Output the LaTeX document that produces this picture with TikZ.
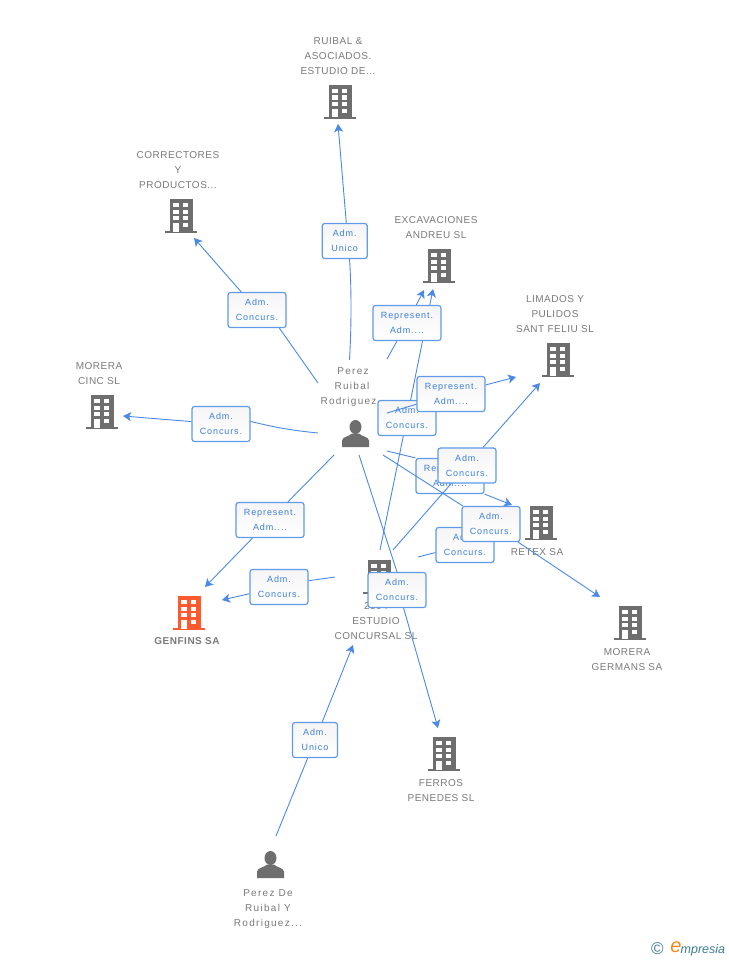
\documentclass[tikz,border=0pt]{standalone}
\usepackage{fontspec}
\usepackage{xcolor}
\usetikzlibrary{arrows.meta}
\setmainfont[LetterSpace=5]{Liberation Sans}
\newfontfamily\boxfont[LetterSpace=10]{Liberation Sans}
\newfontfamily\peoplefont[LetterSpace=13]{Liberation Sans}
\newfontfamily\logofont{Liberation Sans}
\definecolor{linkblue}{HTML}{4A8AE6}
\definecolor{boxblue}{HTML}{5F9AEB}
\definecolor{textblue}{HTML}{3C7FDC}
\definecolor{icongray}{HTML}{6E6E6E}
\definecolor{namegray}{HTML}{7A7A7A}
\definecolor{genfinsred}{HTML}{FF5A2E}
\definecolor{logoteal}{HTML}{3B7D96}
\definecolor{logoorange}{HTML}{F08A1D}
\colorlet{bldg}{icongray}
\tikzset{
  building/.pic={
    \fill[bldg] (-11,-17) rectangle (12,15.5);
    \fill[bldg] (-16,15) rectangle (16,17);
    \foreach \wy in {-13,-6.5,0} {
      \fill[white] (-7.7,\wy) rectangle (-2.3,\wy+4.3);
      \fill[white] (2,\wy) rectangle (6.7,\wy+4.3);
    }
    \fill[white] (-7.7,7) rectangle (-2.3,15.5);
    \fill[white] (2,7) rectangle (6.7,11);
  },
  person/.pic={
    \fill[bldg] (0,-6.5) ellipse (6 and 7);
    \fill[bldg] (-13.5,13.5) -- (-13.5,7) .. controls (-13,3) and (-6,3) .. (-3.5,0)
      -- (3.5,0) .. controls (6,3) and (13,3) .. (13.5,7) -- (13.5,13.5) -- cycle;
  }
}
\begin{document}
\begin{tikzpicture}[x=1pt,y=-1pt]
  \tikzstyle{entity}=[text=namegray,align=center,inner sep=0pt,font=\fontsize{10}{15}\selectfont]
  \tikzstyle{human}=[entity,font=\peoplefont\fontsize{10}{15}\selectfont]
  \tikzstyle{rolebox}=[draw=boxblue,line width=1.2pt,top color=black!4,bottom color=white,rounded corners=2.5pt,
    text=textblue,align=center,inner sep=0pt,minimum height=35pt,font=\boxfont\fontsize{9}{15}\selectfont]
  \tikzstyle{adm}=[rolebox,minimum width=58pt]
  \tikzstyle{rep}=[rolebox,minimum width=68pt]
  \tikzstyle{uni}=[rolebox,minimum width=45pt]
  \tikzstyle{link}=[draw=linkblue,line width=0.9pt]
  \tikzstyle{linkto}=[link,-{Stealth[length=8pt,width=9pt,inset=2pt]}]

  \useasboundingbox (0,0) rectangle (728,960);
  \fill[white] (0,0) rectangle (728,960);

  % loose ends of the links
  \coordinate (pz-ruibal) at (349.5,360);
  \coordinate (pz-correct) at (318,383);
  \coordinate (pz-cinc) at (318,433);
  \coordinate (pz-genfins) at (334,455);
  \coordinate (pz-excav) at (387,359);
  \coordinate (pz-limados) at (387,413);
  \coordinate (pz-retex) at (387,451);
  \coordinate (pz-germans) at (383,455);
  \coordinate (pz-ferros) at (359,455);
  \coordinate (es-genfins) at (335,577);
  \coordinate (es-excav) at (380,550);
  \coordinate (es-limados) at (393,550);
  \coordinate (es-retex) at (418,557);
  \coordinate (pd-estudio) at (276,836);
  \coordinate (to-ruibal) at (338,124);
  \coordinate (to-correct) at (194,238);
  \coordinate (to-excav1) at (424,290);
  \coordinate (to-excav2) at (433,289);
  \coordinate (to-limados1) at (516,377);
  \coordinate (to-limados2) at (540,383);
  \coordinate (to-cinc) at (123,416);
  \coordinate (to-retex) at (512,505);
  \coordinate (to-germans) at (600,597);
  \coordinate (to-genfins1) at (205,587);
  \coordinate (to-genfins2) at (222,600);
  \coordinate (to-estudio) at (353,645);
  \coordinate (to-ferros) at (438,728);

  % companies and people
  \pic at (340,102) {building};
  \pic at (181,216) {building};
  \pic at (439,266) {building};
  \pic at (558,360) {building};
  \pic at (102,412) {building};
  \pic at (541,523) {building};
  \pic at (379,577) {building};
  \pic at (630,623) {building};
  \pic at (444,754) {building};
  \begin{scope}
    \colorlet{bldg}{genfinsred}
    \pic at (189,613) {building};
  \end{scope}
  \pic at (355.5,433.5) {person};
  \pic at (270.5,864.5) {person};

  \node [entity] (ruibal) at (338,56.5) {RUIBAL \&\\ASOCIADOS.\\ESTUDIO DE...};
  \node [entity] (correct) at (178,170) {CORRECTORES\\Y\\PRODUCTOS...};
  \node [entity] (excav) at (436,227.5) {EXCAVACIONES\\ANDREU SL};
  \node [entity] (limados) at (555,314) {LIMADOS Y\\PULIDOS\\SANT FELIU SL};
  \node [entity] (cinc) at (99,373.5) {MORERA\\CINC SL};
  \node [entity] (retex) at (537,552) {RETEX SA};
  \node [entity] (estudio) at (376,621) {2004\\ESTUDIO\\CONCURSAL SL};
  \node [entity,font=\bfseries\fontsize{10}{15}\selectfont] (genfins) at (187,641) {GENFINS SA};
  \node [entity] (germans) at (627,659.5) {MORERA\\GERMANS SA};
  \node [entity] (ferros) at (441,790.5) {FERROS\\PENEDES SL};
  \node [human] (perez) at (348.5,387) {\hspace*{9pt}Perez\\\hspace*{7pt}Ruibal\\Rodriguez};
  \node [human] (perezde) at (268,909) {Perez De\\Ruibal Y\\Rodriguez...};

  % roles, left side
  \node [uni] (r-ruibal) at (344.7,241) {Adm.\\Unico};
  \draw [link] (pz-ruibal) .. controls (351.5,325) and (351.5,290) .. (r-ruibal.-75);
  \draw [linkto] (r-ruibal.85) -- (to-ruibal);

  \node [adm] (r-correct) at (257,310) {Adm.\\Concurs.};
  \draw [link] (pz-correct) -- (r-correct.-39);
  \draw [linkto] (r-correct) -- (to-correct);

  \node [adm] (r-cinc) at (221,424) {Adm.\\Concurs.};
  \draw [link] (pz-cinc) to[bend left=4] (r-cinc.5);
  \draw [linkto] (r-cinc) -- (to-cinc);

  \node [rep] (r-genfins) at (270,520) {Represent.\\Adm....};
  \draw [link] (pz-genfins) -- (r-genfins);
  \draw [linkto] (r-genfins) -- (to-genfins1);

  \node [adm] (r-estudio) at (279,587) {Adm.\\Concurs.};
  \draw [link] (es-genfins) -- (r-estudio.12);
  \draw [linkto] (r-estudio) -- (to-genfins2);

  \node [uni] (r-perezde) at (315,740) {Adm.\\Unico};
  \draw [link] (pd-estudio) -- (r-perezde);
  \draw [linkto] (r-perezde) -- (to-estudio);

  % roles, crowded middle
  \node [adm] (r-excav2) at (407,418) {Adm.\\Concurs.};
  \draw [link] (es-excav) -- (r-excav2);
  \draw [linkto] (r-excav2) -- (to-excav2);

  \node [rep] (r-excav) at (407,323) {Represent.\\Adm....};
  \draw [link] (pz-excav) -- (r-excav);
  \draw [linkto] (r-excav) -- (to-excav1);

  \node [rep] (r-limados) at (451,394) {Represent.\\Adm....};
  \draw [link] (pz-limados) -- (r-limados);
  \draw [linkto] (r-limados) -- (to-limados1);

  \node [rep] (r-retex) at (450,476) {Represent.\\Adm....};
  \draw [link] (pz-retex) -- (r-retex.north west);
  \draw [linkto] (r-retex.south east) -- (to-retex);

  \node [adm] (r-limados2) at (467,465.5) {Adm.\\Concurs.};
  \draw [link] (es-limados) -- (r-limados2);
  \draw [linkto] (r-limados2) -- (to-limados2);

  \node [adm] (r-retex2) at (465,545) {Adm.\\Concurs.};
  \draw [link] (es-retex) -- (r-retex2);

  \node [adm] (r-germans) at (491,524) {Adm.\\Concurs.};
  \draw [link] (pz-germans) -- (r-germans);
  \draw [linkto] (r-germans) -- (to-germans);

  \node [adm] (r-ferros) at (397,590) {Adm.\\Concurs.};
  \draw [link] (pz-ferros) -- (r-ferros.north);
  \draw [linkto] (r-ferros.290) -- (to-ferros);

  % logo
  \node [text=logoteal,inner sep=0pt,font=\logofont\fontsize{17}{17}\selectfont] (copyr) at (657.5,949) {©};
  \node [text=logoorange,inner sep=0pt,font=\logofont\itshape\fontsize{20}{20}\selectfont] (logoe) at (676,947) {e};
  \node [text=logoteal,inner sep=0pt,anchor=west,font=\logofont\itshape\fontsize{12.5}{12.5}\selectfont] (logotxt) at (680.5,950) {mpresia};
\end{tikzpicture}
\end{document}
